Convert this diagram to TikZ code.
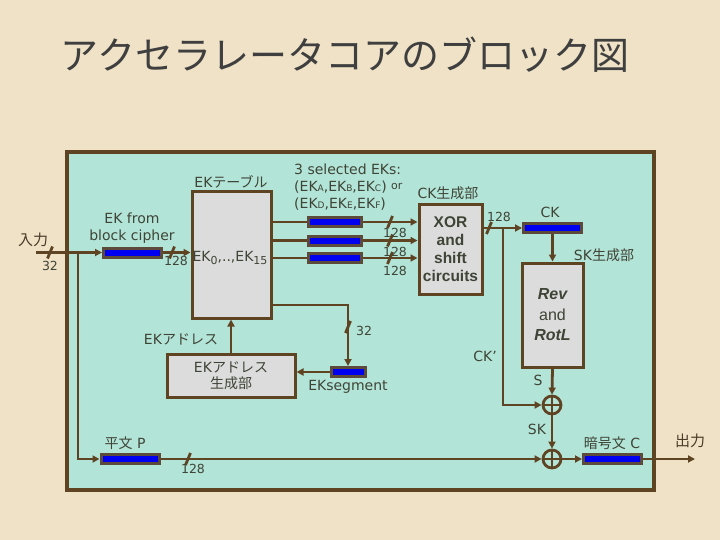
\documentclass[tikz,border=0pt]{standalone}
\usepackage{fontspec}
\setmainfont{DejaVu Sans}
\newfontfamily\jp{Noto Sans CJK JP}
\newfontfamily\arl{Liberation Sans}
\usetikzlibrary{arrows.meta,calc}
\definecolor{paper}{HTML}{EFE2C6}
\definecolor{panel}{HTML}{B3E4D8}
\definecolor{brn}{HTML}{5E4423}
\definecolor{regb}{HTML}{5C4A3A}
\definecolor{txt}{HTML}{3E4436}
\definecolor{boxg}{HTML}{DCDCDC}
\definecolor{blu}{HTML}{0000F0}
\definecolor{titlec}{HTML}{3F3F3F}
\definecolor{iotxt}{HTML}{4A3A28}
\newcommand\subsc[1]{{\fontsize{9}{9}\selectfont #1}}
\newcommand\mkslash[1]{\draw[brn,line width=2.8pt] ($#1+(-2.5,6)$) -- ($#1+(2.5,-6)$);}
\begin{document}
\begin{tikzpicture}[x=1pt,y=-1pt,
 every node/.style={text=txt,font=\fontsize{14}{16}\selectfont,inner sep=0pt},
 reg/.style={draw=regb,line width=3pt,fill=blu,minimum height=9pt},
 blk/.style={draw=brn,line width=3pt,fill=boxg},
 wire/.style={draw=brn,line width=2.8pt},
 arr/.style={wire,-{Triangle[length=7pt,width=7pt]}},
 sm/.style={font=\fontsize{12.5}{13}\selectfont},
 xc/.style={circle,draw=brn,line width=2.8pt,minimum size=18pt}
]
\useasboundingbox (0,0) rectangle (720,540);
\fill[paper] (0,0) rectangle (720,540);
\draw[brn,line width=4pt,fill=panel] (66.5,152) rectangle (654,490);

\node[font=\jp\fontsize{38}{40}\selectfont,text=titlec] (title) at (345,55) {アクセラレータコアのブロック図};

% registers
\node[reg,minimum width=58pt] (ekreg) at (132.5,252.5) {};
\node[reg,minimum width=53pt] (ra) at (335,222) {};
\node[reg,minimum width=53pt] (rb) at (335,240.5) {};
\node[reg,minimum width=53pt] (rc) at (335,258) {};
\node[reg,minimum width=58pt] (ck) at (552.5,228) {};
\node[reg,minimum width=34pt] (seg) at (348,372) {};
\node[reg,minimum width=58pt] (pt) at (130,459) {};
\node[reg,minimum width=58pt] (ct) at (612.5,459) {};

% blocks
\node[blk,minimum width=79pt,minimum height=126pt] (ekt) at (231.5,255) {};
\node[blk,minimum width=63pt,minimum height=90pt,align=center,
  font=\arl\bfseries\fontsize{15.5}{18}\selectfont] (xor) at (450.5,249.5) {XOR\\and\\shift\\circuits};
\node[blk,minimum width=61pt,minimum height=104pt,align=center,
  font=\arl\fontsize{16}{20.5}\selectfont] (rev) at (552.5,315) {{\bfseries\itshape Rev}\\and\\{\bfseries\itshape RotL}};
\node[blk,minimum width=128pt,minimum height=43pt,align=center,
  font=\fontsize{14}{16}\selectfont] (addr) at (231,375.5) {EK{\jp アドレス}\\{\jp 生成部}};
\node[xc] (c1) at (552,405) {};
\node[xc] (c2) at (552,459) {};
\draw[wire] (c1.north) -- (c1.south) (c1.west) -- (c1.east);
\draw[wire] (c2.north) -- (c2.south) (c2.west) -- (c2.east);

% connectors
\coordinate (inS) at (36,252.5);
\coordinate (br1) at (78,252.5);
\coordinate (br2) at (503,228);
\coordinate (outE) at (695,459);
\coordinate (eksy) at (0,305);
\draw[arr] (inS) -- (ekreg.west);
\draw[arr] (br1) |- (pt.west);
\draw[arr] (ekreg.east) -- (ekreg.east -| ekt.west);
\draw[wire] (ra.west -| ekt.east) -- (ra.west);
\draw[wire] (rb.west -| ekt.east) -- (rb.west);
\draw[wire] (rc.west -| ekt.east) -- (rc.west);
\draw[arr] (ra.east) -- (ra.east -| xor.west);
\draw[arr] (rb.east) -- (rb.east -| xor.west);
\draw[arr] (rc.east) -- (rc.east -| xor.west);
\draw[arr] (ck.west -| xor.east) -- (ck.west);
\draw[arr] (br2) |- (c1.west);
\draw[arr] (ck.south) -- (rev.north);
\draw[arr] (rev.south) -- (c1.north);
\draw[arr] (c1.south) -- (c2.north);
\draw[arr] (pt.east) -- (c2.west);
\draw[arr] (c2.east) -- (ct.west);
\draw[arr] (ct.east) -- (outE);
\draw[arr] (addr.north) -- (addr.north |- ekt.south);
\draw[arr] (ekt.east |- eksy) -| (seg.north);
\draw[arr] (seg.west) -- (seg.west -| addr.east);

% slashes
\mkslash{(50,252.5)}
\mkslash{(172,252.5)}
\mkslash{(390,222)}
\mkslash{(390,240.5)}
\mkslash{(390,258)}
\mkslash{(489,228)}
\mkslash{(348,327)}
\mkslash{(188,459)}

% labels
\node[text=iotxt,font=\jp\fontsize{15}{16}\selectfont] (lin) at (33,240) {入力};
\node[text=iotxt,font=\jp\fontsize{15}{16}\selectfont] (lout) at (690,441) {出力};
\node[sm] (n32a) at (50,266) {32};
\node[sm] (n128a) at (176,261) {128};
\node[sm] (n128b) at (395,233) {128};
\node[sm] (n128c) at (395,252) {128};
\node[sm] (n128d) at (395,271) {128};
\node[sm] (n128e) at (499,217) {128};
\node[sm] (n32b) at (364,331) {32};
\node[sm] (n128f) at (193,469) {128};

\node[align=center,font=\fontsize{14}{17}\selectfont] (ekfrom) at (132,228) {EK from\\block cipher};
\node (ektl) at (231,182) {EK{\jp テーブル}};
\node (ekin) at (230,258) {EK\raisebox{-3pt}{\fontsize{11}{11}\selectfont 0},..,EK\raisebox{-3pt}{\fontsize{11}{11}\selectfont 15}};
\node[anchor=base west] (sel1) at (294,175) {3 selected EKs:};
\node[anchor=base west] (sel2) at (294,192) {(EK\subsc{A},EK\subsc{B},EK\subsc{C}) \raisebox{2pt}{\fontsize{11}{11}\selectfont or}};
\node[anchor=base west] (sel3) at (294,208) {(EK\subsc{D},EK\subsc{E},EK\subsc{F})};
\node (ckgen) at (448,193) {CK{\jp 生成部}};
\node (ckl) at (550,212) {CK};
\node (skgen) at (604,255) {SK{\jp 生成部}};
\node (sl) at (538,380) {S};
\node (skl) at (537,429) {SK};
\node (ckp) at (485,356) {CK’};
\node (addrl) at (181,339) {EK{\jp アドレス}};
\node (segl) at (348,387) {EKsegment};
\node (ptl) at (125,443) {{\jp 平文} P};
\node (ctl) at (612,443) {{\jp 暗号文} C};
\end{tikzpicture}
\end{document}
